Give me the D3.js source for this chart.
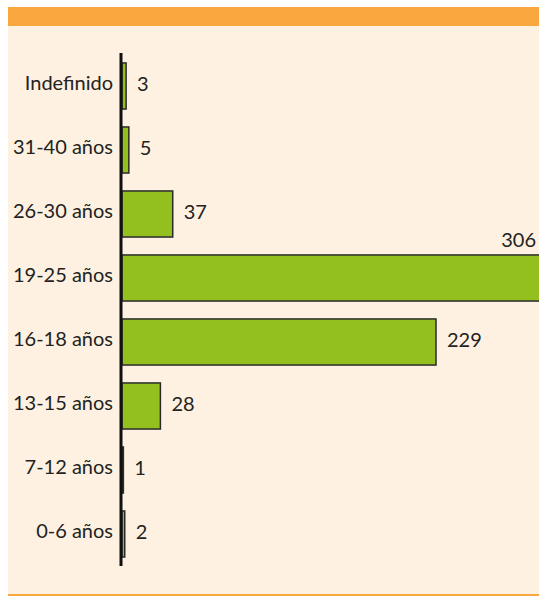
<!DOCTYPE html>
<html><head><meta charset="utf-8">
<script src="https://cdn.jsdelivr.net/npm/d3@7"></script>
<style>body{margin:0;background:#fff;}svg{display:block;}</style>
</head><body>
<script>
const categories = ["Indefinido","31-40 años","26-30 años","19-25 años","16-18 años","13-15 años","7-12 años","0-6 años"];
const values = [3,5,37,306,229,28,1,2];

const W = 539, H = 597;
const svg = d3.select("body").append("svg").attr("width", W).attr("height", H);

svg.append("rect").attr("x",8).attr("y",7).attr("width",W-8).attr("height",589).attr("fill","#FEF1E1");
svg.append("rect").attr("x",8).attr("y",7).attr("width",W-8).attr("height",19).attr("fill","#F9A73E");
svg.append("rect").attr("x",8).attr("y",594).attr("width",W-8).attr("height",2).attr("fill","#F9A73E");

const x0 = 122;
const x = d3.scaleLinear().domain([0,229]).range([x0,436]);
const y = d3.scaleBand().domain(categories).range([54,566]).paddingInner(0.28).paddingOuter(0.14);

const g = svg.append("g");
g.selectAll("rect.bar").data(values).join("rect").attr("class","bar")
  .attr("x", x0).attr("y",(d,i)=>y(categories[i]))
  .attr("width", d=>Math.min(x(d), W+2)-x0).attr("height", y.bandwidth())
  .attr("fill","#93C01F").attr("stroke","#2a2a2a").attr("stroke-width",1.5);

const font = "Lato, 'Open Sans', sans-serif";
g.selectAll("text.val").data(values).join("text").attr("class","val")
  .attr("x",(d,i)=> d>250 ? 536 : x(d)+11)
  .attr("y",(d,i)=> d>250 ? y(categories[i])-8 : y(categories[i])+y.bandwidth()/2+5)
  .attr("text-anchor",d=> d>250 ? "end":"start")
  .attr("font-family",font).attr("font-size",20).attr("fill","#222")
  .text(d=>d);

const axis = d3.axisLeft(y).tickSize(0).tickPadding(8);
const ag = svg.append("g").attr("transform",`translate(${x0-1},0)`).call(axis);
ag.select(".domain").attr("stroke","#111").attr("stroke-width",3).attr("d","M0,53V566");
ag.selectAll("text").attr("font-family",font).attr("font-size",20).attr("fill","#222").attr("dy","0.2em");
</script>
</body></html>
